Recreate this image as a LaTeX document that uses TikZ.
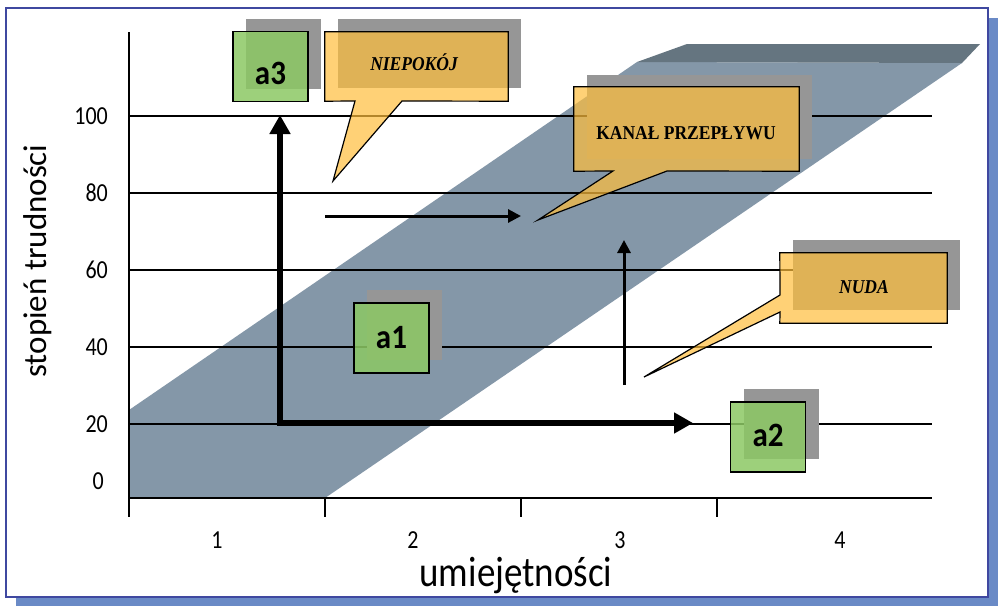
\documentclass[tikz,border=0pt]{standalone}
\usepackage{fontspec}
\setmainfont{Carlito}
\newfontfamily\calloutfont{Liberation Serif}
\usetikzlibrary{arrows.meta}
\definecolor{bandcol}{RGB}{132,151,168}
\definecolor{bandtop}{RGB}{101,117,128}
\definecolor{shadowgray}{RGB}{150,150,150}
\definecolor{greenfill}{RGB}{140,200,100}
\definecolor{orangefill}{RGB}{255,190,60}
\definecolor{framecol}{RGB}{63,72,160}
\definecolor{frameshadow}{RGB}{106,138,198}
\tikzset{
  gridline/.style={black, line width=1.2pt},
  axisline/.style={black, line width=1.6pt},
  ticklab/.style={font=\fontsize{22}{24}\selectfont, inner sep=0pt, yscale=1.18},
  boxshape/.style={draw=none, inner sep=0pt},
  greenbox/.style={draw=black, line width=1.2pt, fill=greenfill, fill opacity=0.85, minimum width=75pt, minimum height=70pt, inner sep=0pt},
  boxlabel/.style={font=\fontsize{31}{34}\selectfont\bfseries, inner sep=0pt, yscale=1.1},
  calloutshape/.style={draw=black, line width=1.2pt, fill=orangefill, fill opacity=0.7, line join=miter},
  callouttext/.style={font=\calloutfont\fontsize{17.5}{20}\selectfont\bfseries, inner sep=0pt, yscale=1.12},
  calloutit/.style={callouttext, font=\calloutfont\fontsize{17.5}{20}\selectfont\bfseries\itshape},
  bigarrow/.style={line width=6pt, -{Triangle[length=19pt,width=20pt]}},
  thinarrow/.style={line width=3pt, -{Triangle[length=13pt,width=13pt]}},
}
\begin{document}
\begin{tikzpicture}[x=1pt,y=-1pt]
\useasboundingbox (0,0) rectangle (998,606);
\fill[white] (0,0) rectangle (998,606);
% frame
\fill[frameshadow] (16,18) rectangle (998,606);
\filldraw[fill=white, draw=framecol, line width=2pt] (6,8) rectangle (988,597);

% band
\fill[bandcol] (129,498) -- (325,498) -- (962,63) -- (637,62) -- (129,410) -- cycle;
\fill[bandtop] (637,62) -- (687,44) -- (980,44) -- (962,63) -- cycle;

% grid
\foreach \yy in {116,193,270,347,424}{
  \draw[gridline] (129,\yy) -- (932,\yy);
}
% axes
\coordinate (ytop) at (129,32);
\coordinate (ybot) at (129,517);
\coordinate (xorig) at (129,498);
\coordinate (xend) at (932,498);
\draw[axisline] (ytop) -- (ybot);
\draw[axisline, line width=2.2pt] (xorig) -- (xend);
\foreach \xx in {325,521,717}{
  \draw[gridline] (\xx,498) -- (\xx,517);
}
% tick labels
\node[ticklab, anchor=east] (y100) at (108,116) {100};
\node[ticklab, anchor=east] (y80) at (108,193) {80};
\node[ticklab, anchor=east] (y60) at (108,270) {60};
\node[ticklab, anchor=east] (y40) at (108,347) {40};
\node[ticklab, anchor=east] (y20) at (108,424) {20};
\node[ticklab, anchor=east] (y0) at (104,481) {0};
\node[ticklab] (x1) at (217,540) {1};
\node[ticklab] (x2) at (413,540) {2};
\node[ticklab] (x3) at (620,540) {3};
\node[ticklab] (x4) at (840,540) {4};
\node[font=\fontsize{37}{40}\selectfont, inner sep=0pt, yscale=1.15] (xtitle) at (516,575) {umiejętności};
\node[font=\fontsize{33}{36}\selectfont, inner sep=0pt, rotate=90] (ytitle) at (38,261) {stopień trudności};

% arrows
\coordinate (corner) at (280,423);
\coordinate (uptip) at (280,115);
\coordinate (righttip) at (693,423);
\draw[bigarrow] ([yshift=3pt]corner) -- (uptip);
\draw[bigarrow] ([xshift=-3pt]corner) -- (righttip);
\coordinate (hA) at (325,216);
\coordinate (hB) at (521,216);
\draw[thinarrow] (hA) -- (hB);
\coordinate (vA) at (624,385);
\coordinate (vB) at (624,240);
\draw[thinarrow] (vA) -- (vB);

% green boxes
\foreach \nm/\cx/\cy in {a1/391.5/338, a2/768/437, a3/270.5/66.5}{
  \fill[shadowgray] (\cx+13-37.5,\cy-13-35) rectangle (\cx+13+37.5,\cy-13+35);
  \node[greenbox] (\nm) at (\cx,\cy) {};
}
\node[boxlabel] (a1lab) at (a1.center) {a1};
\node[boxlabel] (a2lab) at ([yshift=2pt]a2.center) {a2};
\node[boxlabel] (a3lab) at ([yshift=-7pt]a3.center) {a3};

% callouts
\path (416.5,66.5) node[boxshape, minimum width=183pt, minimum height=69pt] (niep) {};
\path (686.5,129) node[boxshape, minimum width=225pt, minimum height=84pt] (kanal) {};
\path (863.5,288) node[boxshape, minimum width=167pt, minimum height=70pt] (nuda) {};
\coordinate (tipN) at (333,181);
\coordinate (tipK) at (538,220);
\coordinate (tipU) at (644,377);
\foreach \nm/\dy in {niep/-13, kanal/-12, nuda/-13}{
  \fill[shadowgray] ([shift={(13,\dy)}]\nm.south west) rectangle ([shift={(13,\dy)}]\nm.north east);
}
\filldraw[calloutshape] (niep.north west) -- (niep.north east) -- (niep.south east)
  -- (402,101) -- (tipN) -- (355,101) -- (niep.south west) -- cycle;
\filldraw[calloutshape] (kanal.north west) -- (kanal.north east) -- (kanal.south east)
  -- (667,171) -- (tipK) -- (613,171) -- (kanal.south west) -- cycle;
\filldraw[calloutshape] (nuda.north west) -- (nuda.north east) -- (nuda.south east)
  -- (nuda.south west) -- (780,312) -- (tipU) -- (780,295) -- cycle;
\node[calloutit] (niepT) at (414,62) {NIEPOKÓJ};
\node[callouttext] (kanalT) at (686,133) {KANAŁ PRZEPŁYWU};
\node[calloutit] (nudaT) at (864,287) {NUDA};
\end{tikzpicture}
\end{document}
